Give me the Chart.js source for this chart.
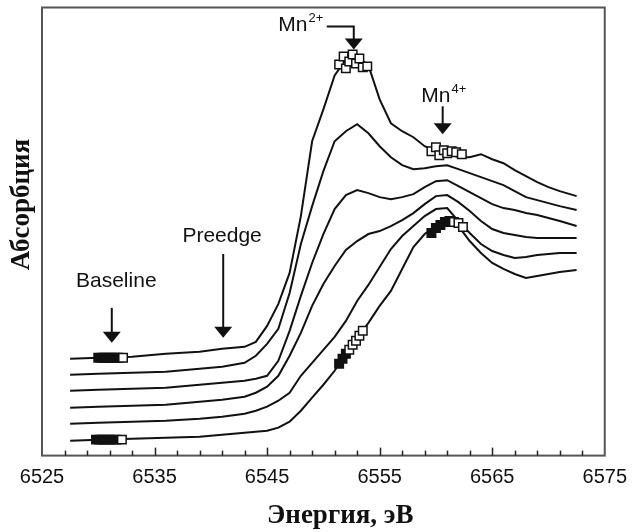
<!DOCTYPE html>
<html>
<head>
<meta charset="utf-8">
<script src="https://cdn.jsdelivr.net/npm/chart.js@4.4.1/dist/chart.umd.min.js"></script>
<style>
  html, body { margin: 0; padding: 0; background: #fff; }
</style>
</head>
<body>
<canvas id="myChart" width="637" height="532"></canvas>
<script>
// energy grid (eV) shared by all spectra
const energy = [6527.5, 6530, 6533, 6536, 6539, 6541, 6543,
  6544, 6545, 6546, 6547, 6548, 6549, 6550, 6551, 6552, 6553, 6554, 6555, 6556, 6557,
  6558, 6559, 6560, 6561, 6562, 6563, 6564, 6565, 6566, 6567, 6568, 6569, 6570, 6571,
  6572.5];

// stacked spectra, top to bottom (arbitrary units, offset included)
const curve1 = [0.97, 0.98, 0.99, 1.02, 1.04, 1.07, 1.09,
  1.14, 1.30, 1.52, 1.83, 2.40, 3.15, 3.47, 3.81, 3.97, 4.00, 3.91, 3.57, 3.33, 3.25,
  3.19, 3.10, 3.05, 3.03, 2.99, 2.99, 3.02, 2.97, 2.93, 2.86, 2.80, 2.74, 2.69, 2.65,
  2.60];
const curve2 = [0.81, 0.82, 0.83, 0.84, 0.87, 0.89, 0.93,
  1.00, 1.12, 1.27, 1.63, 2.12, 2.50, 2.85, 3.15, 3.25, 3.32, 3.23, 3.10, 2.99, 2.91,
  2.87, 2.88, 2.90, 2.91, 2.87, 2.83, 2.79, 2.75, 2.71, 2.65, 2.59, 2.56, 2.53, 2.50,
  2.46];
const curve3 = [0.65, 0.66, 0.67, 0.68, 0.71, 0.73, 0.75,
  0.77, 0.80, 0.95, 1.25, 1.60, 1.93, 2.22, 2.47, 2.61, 2.66, 2.63, 2.59, 2.57, 2.59,
  2.62, 2.69, 2.75, 2.76, 2.70, 2.64, 2.58, 2.52, 2.48, 2.46, 2.43, 2.41, 2.38, 2.35,
  2.30];
const curve4 = [0.48, 0.49, 0.50, 0.51, 0.54, 0.56, 0.59,
  0.63, 0.69, 0.80, 1.00, 1.23, 1.50, 1.72, 1.90, 2.06, 2.15, 2.22, 2.25, 2.30, 2.36,
  2.43, 2.52, 2.60, 2.61, 2.54, 2.45, 2.35, 2.27, 2.23, 2.21, 2.19, 2.18, 2.18, 2.18,
  2.18];
const curve5 = [0.32, 0.33, 0.34, 0.35, 0.37, 0.39, 0.42,
  0.45, 0.49, 0.55, 0.63, 0.80, 0.93, 1.06, 1.19, 1.35, 1.55, 1.71, 1.89, 2.07, 2.20,
  2.30, 2.40, 2.47, 2.48, 2.35, 2.23, 2.12, 2.05, 2.01, 1.98, 1.99, 2.01, 2.02, 2.03,
  2.03];
const curve6 = [0.15, 0.16, 0.17, 0.18, 0.19, 0.21, 0.23,
  0.24, 0.25, 0.28, 0.34, 0.45, 0.58, 0.71, 0.85, 1.02, 1.17, 1.33, 1.50, 1.65, 1.87,
  2.09, 2.22, 2.30, 2.36, 2.30, 2.15, 2.03, 1.93, 1.87, 1.82, 1.78, 1.80, 1.82, 1.84,
  1.86];

// square markers
const baseTopE = [6530.0, 6530.3, 6530.6, 6530.9, 6531.2, 6531.5, 6531.8, 6532.2];
const baseTopY = [0.98, 0.98, 0.98, 0.98, 0.98, 0.98, 0.98, 0.98];
const baseLowE = [6529.8, 6530.1, 6530.4, 6530.7, 6531.0, 6531.3, 6531.6, 6532.1];
const baseLowY = [0.16, 0.16, 0.16, 0.16, 0.16, 0.16, 0.16, 0.16];
const peakTopE = [6551.4, 6551.8, 6552.0, 6552.3, 6552.6, 6552.9, 6553.2, 6553.5, 6553.9];
const peakTopY = [3.92, 4.00, 3.88, 3.95, 4.02, 3.93, 3.98, 3.89, 3.90];
const mn4TopE = [6559.6, 6560.0, 6560.3, 6560.7, 6561.0, 6561.4, 6561.8, 6562.3];
const mn4TopY = [3.05, 3.09, 3.01, 3.06, 3.03, 3.05, 3.04, 3.02];
const edgeLowE = [6551.4, 6551.7, 6552.0, 6552.3, 6552.6, 6552.9, 6553.2, 6553.5];
const edgeLowY = [0.92, 0.97, 1.02, 1.06, 1.11, 1.15, 1.20, 1.25];
const mn4LowE = [6559.6, 6560.0, 6560.4, 6560.8, 6561.2, 6561.6, 6562.0, 6562.4];
const mn4LowY = [2.23, 2.28, 2.31, 2.34, 2.35, 2.34, 2.33, 2.29];

// x axis tick labels
const xTicks = [6525, 6535, 6545, 6555, 6565, 6575];

// annotations (energy, absorption)
const noteText = ['Baseline', 'Preedge', 'Mn', 'Mn'];
const noteSup = ['', '', '2+', '4+'];
const noteE = [6531.6, 6541.0, 6546.0, 6558.7];
const noteY = [1.75, 2.20, 4.31, 3.60];
const arrowE = [6531.2, 6541.1, 6552.7, 6560.6];
const arrowFrom = [1.48, 2.02, 4.30, 3.50];
const arrowTip = [1.13, 1.18, 4.07, 3.22];
const elbowE = 6550.3; // start of the bent Mn2+ arrow

const curves = [curve1, curve2, curve3, curve4, curve5, curve6];

const lineSets = curves.map(c => ({
  type: 'line',
  data: energy.map((e, i) => ({ x: e, y: c[i] })),
  borderColor: '#111',
  borderWidth: 2,
  pointRadius: 0,
  tension: 0,
  order: 2
}));

const markerSet = (es, ys, dark) => ({
  type: 'scatter',
  data: es.map((e, i) => ({ x: e, y: ys[i] })),
  pointStyle: 'rect',
  pointRadius: 6,
  pointBorderWidth: 1.5,
  pointBorderColor: '#111',
  pointBackgroundColor: es.map((e, i) => i < dark ? '#111' : '#fff'),
  order: 1
});

const markerSets = [
  markerSet(baseTopE, baseTopY, 7),
  markerSet(baseLowE, baseLowY, 7),
  markerSet(peakTopE, peakTopY, 0),
  markerSet(mn4TopE, mn4TopY, 0),
  markerSet(edgeLowE, edgeLowY, 3),
  markerSet(mn4LowE, mn4LowY, 5)
];

const sans = '"Liberation Sans", Arial, sans-serif';
const serif = '"Liberation Serif", "Times New Roman", serif';
const nb = n => '\u00A0'.repeat(n); // shifts a centred axis title

const overlay = {
  id: 'overlay',
  afterDatasetsDraw(chart) {
    const { ctx, scales: { x, y } } = chart;
    ctx.save();
    ctx.fillStyle = '#111';
    ctx.strokeStyle = '#111';
    ctx.lineWidth = 2;

    // arrows
    for (let i = 0; i < arrowE.length; i++) {
      const px = x.getPixelForValue(arrowE[i]);
      const y0 = y.getPixelForValue(arrowFrom[i]);
      const y1 = y.getPixelForValue(arrowTip[i]);
      ctx.beginPath();
      if (noteSup[i] === '2+') {
        ctx.moveTo(x.getPixelForValue(elbowE), y0);
        ctx.lineTo(px, y0);
      } else {
        ctx.moveTo(px, y0);
      }
      ctx.lineTo(px, y1 - 8);
      ctx.stroke();
      ctx.beginPath();
      ctx.moveTo(px - 9, y1 - 11);
      ctx.lineTo(px + 9, y1 - 11);
      ctx.lineTo(px, y1);
      ctx.closePath();
      ctx.fill();
    }

    // labels
    ctx.textBaseline = 'middle';
    for (let i = 0; i < noteText.length; i++) {
      const px = x.getPixelForValue(noteE[i]);
      const py = y.getPixelForValue(noteY[i]);
      ctx.font = '21px ' + sans;
      if (noteSup[i]) {
        ctx.textAlign = 'left';
        ctx.fillText(noteText[i], px, py);
        const w = ctx.measureText(noteText[i]).width;
        ctx.font = '13px ' + sans;
        ctx.fillText(noteSup[i], px + w + 1, py - 7);
      } else {
        ctx.textAlign = 'center';
        ctx.fillText(noteText[i], px, py);
      }
    }
    ctx.restore();
  },
  afterDraw(chart) {
    const { ctx, chartArea: a, scales: { x } } = chart;
    ctx.save();
    ctx.strokeStyle = '#555';
    ctx.lineWidth = 2;
    ctx.strokeRect(a.left, a.top, a.right - a.left, a.bottom - a.top);
    // inward ticks every 2 eV, longer at labelled values
    ctx.strokeStyle = '#222';
    ctx.lineWidth = 1.5;
    for (let v = xTicks[0] + 2; v < xTicks[xTicks.length - 1]; v += 2) {
      const px = Math.round(x.getPixelForValue(v)) + 0.5;
      const len = xTicks.includes(v) ? 8 : 5;
      ctx.beginPath();
      ctx.moveTo(px, a.bottom);
      ctx.lineTo(px, a.bottom - len);
      ctx.stroke();
    }
    ctx.restore();
  }
};

const ctx = document.getElementById('myChart');

new Chart(ctx, {
  data: { datasets: [...markerSets, ...lineSets] },
  options: {
    responsive: false,
    animation: false,
    devicePixelRatio: 1,
    layout: { padding: { left: 6, top: 6, right: 25, bottom: 0 } },
    plugins: { legend: { display: false }, tooltip: { enabled: false } },
    scales: {
      x: {
        type: 'linear',
        min: xTicks[0],
        max: xTicks[xTicks.length - 1],
        grid: { display: false, drawTicks: false },
        border: { display: false },
        afterBuildTicks: s => { s.ticks = xTicks.map(v => ({ value: v })); },
        ticks: {
          autoSkip: false,
          maxRotation: 0,
          padding: 10,
          color: '#111',
          font: { family: sans, size: 20 },
          callback: v => String(v)
        },
        title: {
          display: true,
          text: nb(5) + 'Энергия, эВ',
          color: '#111',
          font: { family: serif, size: 27, weight: 'bold' },
          padding: { top: 0, bottom: 0 }
        }
      },
      y: {
        type: 'linear',
        min: 0,
        max: 4.49,
        grid: { display: false, drawTicks: false },
        border: { display: false },
        ticks: { display: false },
        title: {
          display: true,
          text: nb(8) + 'Абсорбция',
          color: '#111',
          font: { family: serif, size: 27, weight: 'bold' },
          padding: { top: 0, bottom: 3.6 }
        }
      }
    }
  },
  plugins: [overlay]
});
</script>
</body>
</html>
